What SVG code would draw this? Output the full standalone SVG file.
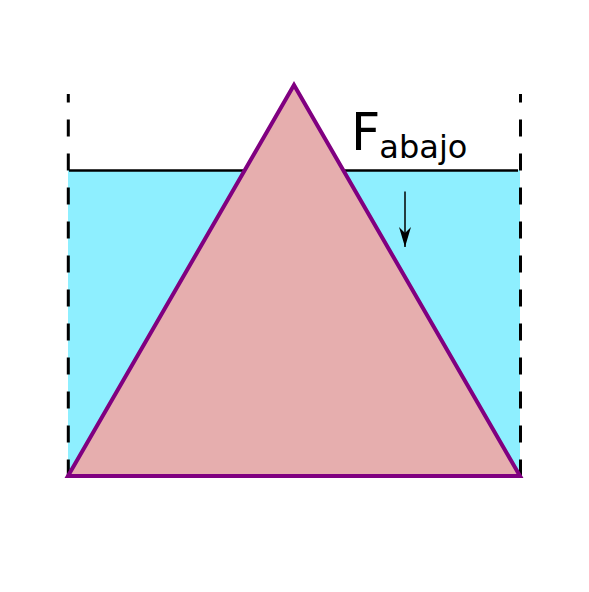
<svg xmlns="http://www.w3.org/2000/svg" width="589" height="592" viewBox="0 0 589 592">
<style>
.wall{stroke:#000;stroke-width:3;stroke-dasharray:17 17;stroke-dashoffset:8.5;fill:none}
.lbl{font-family:"DejaVu Sans",sans-serif;fill:#000}
</style>
<defs>
<marker id="ah" viewBox="0 0 20 12" refX="20" refY="6" markerWidth="20" markerHeight="12" markerUnits="userSpaceOnUse" orient="auto">
<path d="M0,0 L20,6 L0,12 L6,6 Z" fill="#000"/>
</marker>
</defs>
<rect width="589" height="592" fill="#fff"/>
<g id="water">
<rect x="68" y="170" width="452" height="306" fill="#8EEFFF"/>
<line x1="69" y1="170.5" x2="518" y2="170.5" stroke="#000" stroke-width="2.5"/>
</g>
<g id="walls">
<line class="wall" x1="68.3" y1="94" x2="68.3" y2="476"/>
<line class="wall" x1="520.5" y1="94" x2="520.5" y2="476"/>
</g>
<g id="triangle">
<polygon points="294,85 68,476 520,476" fill="#E6AEAE" stroke="#800080" stroke-width="4" stroke-linejoin="miter"/>
</g>
<g id="connectors">
<line x1="405" y1="191.5" x2="405" y2="247" stroke="#000" stroke-width="1.5" marker-end="url(#ah)"/>
</g>
<g id="label">
<text class="lbl" x="351" y="150" font-size="51">F<tspan font-size="32" dx="-1" dy="8">abajo</tspan></text>
</g>
</svg>
